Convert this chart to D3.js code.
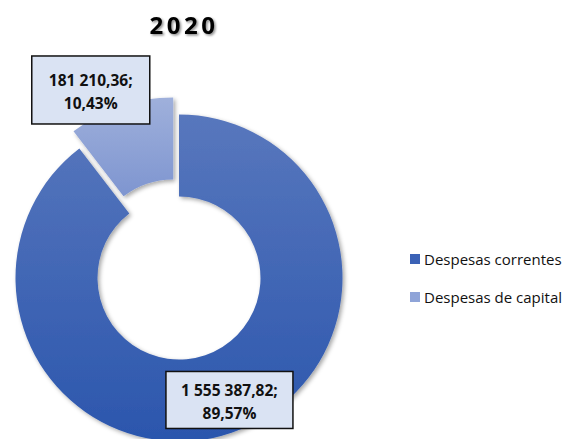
<!DOCTYPE html>
<html>
<head>
<meta charset="utf-8">
<script src="https://cdn.jsdelivr.net/npm/d3@7"></script>
<style>
  body { margin: 0; background: #fff; }
  svg { display: block; font-family: "Open Sans", sans-serif; }
</style>
</head>
<body>
<div></div>
<script>
const width = 571;
const height = 439;

const title = "2020";
const categories = ["Despesas correntes", "Despesas de capital"];
const values = [1555387.82, 181210.36];

const cx = 179;
const cy = 278;
const outerR = 163.5;
const innerR = 81.5;
const explode = [0, 18];

const locale = d3.formatLocale({ decimal: ",", thousands: " ", grouping: [3] });
const fmtValue = locale.format(",.2f");
const fmtPct = locale.format(".2%");

const svg = d3
  .select("div")
  .append("svg")
  .attr("width", width)
  .attr("height", height);

const defs = svg.append("defs");

const shadow = defs.append("filter").attr("id", "shadow")
  .attr("x", "-20%").attr("y", "-20%").attr("width", "140%").attr("height", "140%");
shadow.append("feDropShadow")
  .attr("dx", 2).attr("dy", 2).attr("stdDeviation", 2.2)
  .attr("flood-color", "#000").attr("flood-opacity", 0.35);

const titleShadow = defs.append("filter").attr("id", "tshadow")
  .attr("x", "-20%").attr("y", "-30%").attr("width", "140%").attr("height", "160%");
titleShadow.append("feDropShadow")
  .attr("dx", 1.5).attr("dy", 1.5).attr("stdDeviation", 1.2)
  .attr("flood-color", "#000").attr("flood-opacity", 0.45);

const gradStops = [
  ["#5877bd", "#2b56ad"],
  ["#9fb0db", "#7e95d0"]
];
gradStops.forEach((s, i) => {
  const g = defs.append("linearGradient").attr("id", "grad" + i)
    .attr("x1", 0).attr("y1", 0).attr("x2", 0).attr("y2", 1);
  g.append("stop").attr("offset", "0%").attr("stop-color", s[0]);
  g.append("stop").attr("offset", "100%").attr("stop-color", s[1]);
});
const legendColors = ["#3b62b6", "#8fa4d8"];

svg.append("text")
  .attr("x", 184)
  .attr("y", 34)
  .attr("text-anchor", "middle")
  .attr("font-size", 24)
  .attr("font-weight", "bold")
  .attr("letter-spacing", 3.5)
  .attr("filter", "url(#tshadow)")
  .text(title);

const pie = d3.pie().sort(null).value((d) => d);
const arcs = pie(values);
const arc = d3.arc().innerRadius(innerR).outerRadius(outerR);

const chart = svg.append("g").attr("transform", "translate(" + cx + "," + cy + ")");

chart.selectAll("path")
  .data(arcs)
  .enter()
  .append("path")
  .attr("d", arc)
  .attr("fill", (d, i) => "url(#grad" + i + ")")
  .attr("filter", "url(#shadow)")
  .attr("transform", (d, i) => {
    const a = (d.startAngle + d.endAngle) / 2;
    return "translate(" + explode[i] * Math.sin(a) + "," + -explode[i] * Math.cos(a) + ")";
  });

// data labels (boxes placed relative to slice centroids)
const total = d3.sum(values);
const labelBoxes = [
  { dx: 11, dy: 6, w: 127, h: 57 },
  { dx: -43, dy: -55, w: 118, h: 68 }
];

arcs.forEach((d, i) => {
  const c = arc.centroid(d);
  const a = (d.startAngle + d.endAngle) / 2;
  const lx = c[0] + explode[i] * Math.sin(a) + labelBoxes[i].dx;
  const ly = c[1] - explode[i] * Math.cos(a) + labelBoxes[i].dy;
  const b = labelBoxes[i];
  const g = chart.append("g").attr("transform", "translate(" + lx + "," + ly + ")");
  g.append("rect")
    .attr("x", -b.w / 2)
    .attr("y", -b.h / 2)
    .attr("width", b.w)
    .attr("height", b.h)
    .attr("fill", "#dae3f3")
    .attr("stroke", "#111")
    .attr("stroke-width", 1.5);
  const t = g.append("text")
    .attr("text-anchor", "middle")
    .attr("font-size", 15.5)
    .attr("font-weight", "bold")
    .attr("fill", "#111");
  t.append("tspan").attr("x", 0).attr("y", -4).text(fmtValue(d.data) + ";");
  t.append("tspan").attr("x", 0).attr("y", 19).text(fmtPct(d.data / total));
});

const legend = svg.append("g").attr("transform", "translate(410, 254)");
categories.forEach((c, i) => {
  const row = legend.append("g").attr("transform", "translate(0," + i * 38 + ")");
  row.append("rect")
    .attr("width", 10)
    .attr("height", 10)
    .attr("fill", legendColors[i]);
  row.append("text")
    .attr("x", 14)
    .attr("y", 10.5)
    .attr("font-size", 15)
    .attr("fill", "#111")
    .text(c);
});
</script>
</body>
</html>
